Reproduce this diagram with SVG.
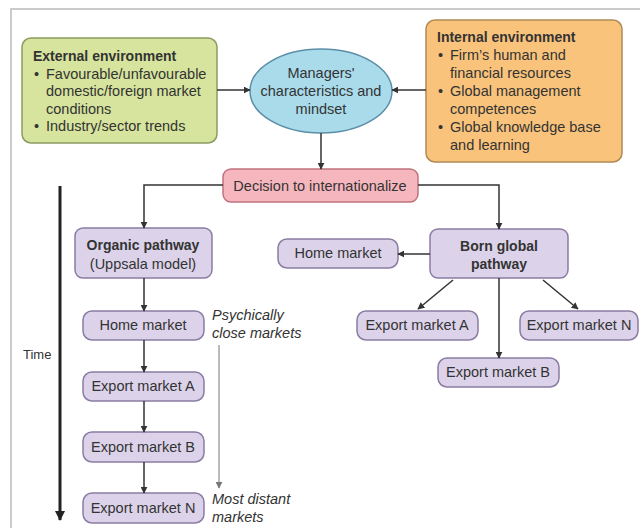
<svg xmlns="http://www.w3.org/2000/svg" width="640" height="528" viewBox="0 0 640 528">
<defs>
<style>
text{font-family:"Liberation Sans",Arial,sans-serif;font-size:14.5px;fill:#333}
.b{font-weight:bold;font-size:14px}
.c{text-anchor:middle}
.i{font-style:italic}
.con{stroke:#333;stroke-width:1.5;fill:none}
.pur{fill:#dcd3ea;stroke:#8a7ca3;stroke-width:1.5}
</style>
<marker id="ah" viewBox="0 0 10 10" refX="9" refY="5" markerWidth="7" markerHeight="7" orient="auto" markerUnits="userSpaceOnUse">
<path d="M0,0 L10,5 L0,10 z" fill="#333"/>
</marker>
<marker id="ahg" viewBox="0 0 10 10" refX="9" refY="5" markerWidth="7" markerHeight="7" orient="auto" markerUnits="userSpaceOnUse">
<path d="M0,0 L10,5 L0,10 z" fill="#777"/>
</marker>
<marker id="aht" viewBox="0 0 10 10" refX="9" refY="5" markerWidth="10" markerHeight="10" orient="auto" markerUnits="userSpaceOnUse">
<path d="M0,0 L10,5 L0,10 z" fill="#222"/>
</marker>
</defs>
<rect width="640" height="528" fill="#fff"/>
<path d="M11,528 V9 H640" stroke="#bbb" stroke-width="1.5" fill="none"/>

<g id="external">
<rect x="22" y="38" width="195" height="105" rx="9" fill="#d6e49d" stroke="#8c9a62" stroke-width="1.5"/>
<text x="33" y="61" class="b">External environment</text>
<text x="34" y="79">•</text><text x="46" y="79">Favourable/unfavourable</text>
<text x="46" y="96">domestic/foreign market</text>
<text x="46" y="114">conditions</text>
<text x="34" y="131">•</text><text x="46" y="131">Industry/sector trends</text>
</g>

<g id="managers">
<ellipse cx="321" cy="91" rx="71" ry="42" fill="#a9dbeb" stroke="#5b8fa8" stroke-width="1.5"/>
<text x="321" y="78" class="c">Managers'</text>
<text x="321" y="96" class="c">characteristics and</text>
<text x="321" y="114" class="c">mindset</text>
</g>

<g id="internal">
<rect x="426" y="20" width="196" height="142" rx="9" fill="#f9c37c" stroke="#b08a55" stroke-width="1.5"/>
<text x="437" y="42" class="b">Internal environment</text>
<text x="438" y="60">•</text><text x="450" y="60">Firm’s human and</text>
<text x="450" y="78">financial resources</text>
<text x="438" y="96">•</text><text x="450" y="96">Global management</text>
<text x="450" y="114">competences</text>
<text x="438" y="132">•</text><text x="450" y="132">Global knowledge base</text>
<text x="450" y="150">and learning</text>
</g>

<g id="decision">
<rect x="223" y="169" width="195" height="33" rx="8" fill="#f6b6be" stroke="#c0737e" stroke-width="1.5"/>
<text x="320" y="191" class="c">Decision to internationalize</text>
</g>

<g id="organic">
<rect x="75" y="228" width="137" height="50" rx="8" class="pur"/>
<text x="143" y="250" class="c b">Organic pathway</text>
<text x="143" y="269" class="c">(Uppsala model)</text>
</g>
<g id="home-left">
<rect x="83" y="311" width="121" height="29" rx="9" class="pur"/>
<text x="143" y="330" class="c">Home market</text>
</g>
<g id="exportA-left">
<rect x="83" y="372" width="121" height="29" rx="9" class="pur"/>
<text x="143" y="391" class="c">Export market A</text>
</g>
<g id="exportB-left">
<rect x="83" y="432" width="121" height="30" rx="9" class="pur"/>
<text x="143" y="452" class="c">Export market B</text>
</g>
<g id="exportN-left">
<rect x="83" y="493" width="121" height="30" rx="9" class="pur"/>
<text x="143" y="513" class="c">Export market N</text>
</g>

<g id="born-global">
<rect x="430" y="229" width="138" height="49" rx="8" class="pur"/>
<text x="499" y="251" class="c b">Born global</text>
<text x="499" y="269" class="c b">pathway</text>
</g>
<g id="home-right">
<rect x="278" y="239" width="120" height="29" rx="9" class="pur"/>
<text x="338" y="258" class="c">Home market</text>
</g>
<g id="exportA-right">
<rect x="357" y="311" width="121" height="29" rx="9" class="pur"/>
<text x="417" y="330" class="c">Export market A</text>
</g>
<g id="exportN-right">
<rect x="520" y="311" width="118" height="29" rx="9" class="pur"/>
<text x="579" y="330" class="c">Export market N</text>
</g>
<g id="exportB-right">
<rect x="438" y="358" width="121" height="29" rx="9" class="pur"/>
<text x="498" y="377" class="c">Export market B</text>
</g>

<g id="time">
<line x1="60" y1="186" x2="60" y2="520" stroke="#222" stroke-width="3" marker-end="url(#aht)"/>
<text x="23" y="359" style="font-size:13px">Time</text>
</g>

<g id="annotations">
<text x="212" y="320" class="i">Psychically</text>
<text x="212" y="338" class="i">close markets</text>
<text x="212" y="504" class="i">Most distant</text>
<text x="212" y="522" class="i">markets</text>
<line x1="219" y1="345" x2="219" y2="488" stroke="#777" stroke-width="1" marker-end="url(#ahg)"/>
</g>

<g id="connectors">
<line x1="217" y1="90" x2="250" y2="90" class="con" marker-end="url(#ah)"/>
<line x1="426" y1="90" x2="392" y2="90" class="con" marker-end="url(#ah)"/>
<line x1="321" y1="133" x2="321" y2="169" class="con" marker-end="url(#ah)"/>
<path d="M223,185 H144 V228" class="con" marker-end="url(#ah)"/>
<path d="M418,185 H499 V229" class="con" marker-end="url(#ah)"/>
<line x1="144" y1="278" x2="144" y2="311" class="con" marker-end="url(#ah)"/>
<line x1="144" y1="340" x2="144" y2="372" class="con" marker-end="url(#ah)"/>
<line x1="144" y1="401" x2="144" y2="432" class="con" marker-end="url(#ah)"/>
<line x1="144" y1="462" x2="144" y2="493" class="con" marker-end="url(#ah)"/>
<line x1="430" y1="254" x2="398" y2="254" class="con" marker-end="url(#ah)"/>
<line x1="453" y1="280" x2="418" y2="309" class="con" marker-end="url(#ah)"/>
<line x1="499" y1="278" x2="499" y2="358" class="con" marker-end="url(#ah)"/>
<line x1="543" y1="280" x2="578" y2="309" class="con" marker-end="url(#ah)"/>
</g>
</svg>
